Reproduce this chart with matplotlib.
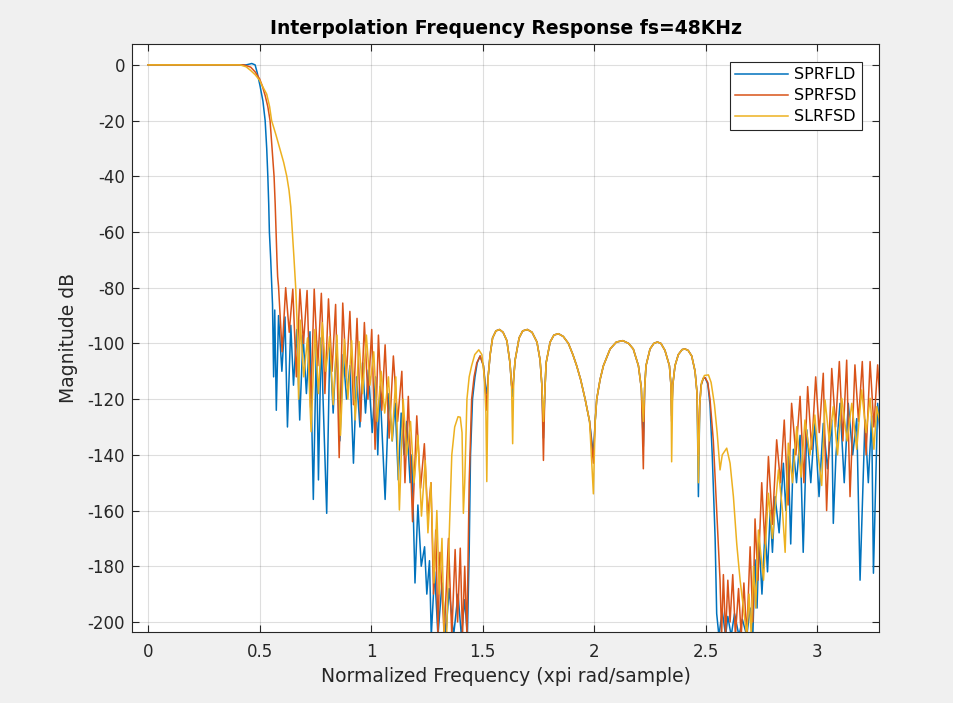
import numpy as np
import matplotlib
matplotlib.use('Agg')
import matplotlib.pyplot as plt

# values: normalized frequency (xpi) and magnitude (dB)

# passband, transition band and lower stopband, one list per filter
sprfld_head_f = [0.000, 0.440, 0.465, 0.480, 0.490, 0.502, 0.515, 0.525, 0.532, 0.537, 0.541, 0.544,
                 0.550, 0.555, 0.558, 0.563, 0.568, 0.575, 0.585, 0.600, 0.614, 0.625, 0.640, 0.652,
                 0.667, 0.680, 0.695, 0.710, 0.726, 0.741, 0.755, 0.764, 0.776, 0.801, 0.815, 0.830,
                 0.846, 0.860, 0.875, 0.890, 0.905, 0.921, 0.935, 0.950, 0.962, 0.975, 0.988, 1.005,
                 1.020, 1.030, 1.040, 1.063, 1.080, 1.095, 1.108, 1.122, 1.135, 1.148, 1.160, 1.175,
                 1.183, 1.197, 1.210, 1.225, 1.240, 1.250, 1.262, 1.270, 1.285, 1.300, 1.318, 1.335,
                 1.350, 1.370, 1.390, 1.405, 1.420, 1.432, 1.440, 1.446, 1.455, 1.466, 1.476, 1.489,
                 1.504, 1.514]
sprfld_head_db = [0, 0, 0.5, 0, -3, -7.5, -13, -20, -30, -40, -50, -60,
                  -70, -80, -86, -112, -88, -124, -90, -110, -90.5, -130, -93.5, -115,
                  -95, -127.5, -97, -118, -95.8, -156, -99, -149, -98, -161, -100, -125,
                  -98.7, -135, -104, -120, -108, -143, -112, -130, -107, -125, -109.5, -132,
                  -112, -140, -115.5, -156, -118, -135, -121.5, -149, -125, -140, -128, -150,
                  -140, -186, -158, -180, -173, -190, -178, -205, -182, -205, -186, -205,
                  -188, -205, -190, -205, -192, -205, -175, -140, -120, -112, -107, -104.5,
                  -108, -116]

sprfsd_head_f = [0.000, 0.430, 0.460, 0.480, 0.500, 0.512, 0.525, 0.537, 0.547, 0.556, 0.565, 0.570,
                 0.574, 0.578, 0.581, 0.585, 0.601, 0.617, 0.633, 0.649, 0.665, 0.681, 0.697, 0.713,
                 0.729, 0.745, 0.761, 0.777, 0.793, 0.809, 0.825, 0.841, 0.857, 0.873, 0.889, 0.905,
                 0.921, 0.937, 0.953, 0.970, 0.986, 1.003, 1.018, 1.033, 1.048, 1.063, 1.081, 1.100,
                 1.119, 1.138, 1.152, 1.167, 1.186, 1.205, 1.222, 1.239, 1.254, 1.269, 1.280, 1.290,
                 1.300, 1.309, 1.328, 1.347, 1.362, 1.377, 1.388, 1.400, 1.410, 1.420, 1.430, 1.440,
                 1.451, 1.462, 1.474, 1.489, 1.504, 1.514]
sprfsd_head_db = [0, 0, -0.8, -2.5, -5, -7.5, -11, -15, -20, -30, -40, -50,
                  -60, -70, -76, -79.5, -103, -80, -96, -80.5, -112, -80.5, -100, -81,
                  -123, -80.5, -108, -82, -118, -84, -110, -86, -141, -85.5, -112, -88.5,
                  -122, -91, -128, -92.5, -120, -95, -138, -97, -124, -100.5, -134, -104.5,
                  -128, -110, -150, -119, -164, -126, -152, -136, -162, -150, -190, -167,
                  -205, -175, -205, -170, -205, -174, -200, -173.5, -205, -180, -205, -150,
                  -120, -112, -107, -104.5, -108, -118]

slrfsd_head_f = [0.000, 0.413, 0.440, 0.460, 0.480, 0.500, 0.510, 0.532, 0.545, 0.554, 0.573, 0.592,
                 0.608, 0.622, 0.632, 0.640, 0.647, 0.654, 0.662, 0.668, 0.675, 0.682, 0.698, 0.715,
                 0.731, 0.748, 0.764, 0.781, 0.797, 0.814, 0.830, 0.847, 0.863, 0.880, 0.896, 0.913,
                 0.929, 0.946, 0.962, 0.979, 0.995, 1.012, 1.028, 1.045, 1.061, 1.078, 1.094, 1.111,
                 1.127, 1.144, 1.160, 1.177, 1.193, 1.210, 1.226, 1.243, 1.255, 1.268, 1.282, 1.295,
                 1.306, 1.318, 1.328, 1.339, 1.350, 1.362, 1.375, 1.390, 1.400, 1.408, 1.414, 1.420,
                 1.430, 1.440, 1.451, 1.465, 1.483, 1.497, 1.508, 1.515]
slrfsd_head_db = [0, 0, -0.7, -2, -3.5, -5.5, -7.2, -10.5, -15, -20, -25, -30.5,
                  -35, -40, -45, -51, -60, -69, -80, -92, -120, -91.6, -112, -98,
                  -131.7, -95, -118, -92.5, -110, -97.5, -122, -97, -133, -98.5, -120, -99,
                  -127.5, -99.3, -118, -97, -115, -103, -128, -110, -125, -112, -135, -112,
                  -159.8, -120, -140, -128, -150, -133, -162, -142, -168, -150, -186, -160,
                  -190, -170, -205, -205, -170, -140, -130, -126.3, -126.5, -132, -161, -150,
                  -120, -112, -108, -104, -102.3, -104, -112, -125]

# middle lobes shared by all three responses (only the null depths differ)
mid_f = [1.525, 1.534, 1.545, 1.560, 1.576, 1.592, 1.609, 1.623, 1.630,
         1.640, 1.646, 1.664, 1.680, 1.701, 1.722, 1.744, 1.758, 1.766,
         1.779, 1.785, 1.803, 1.820, 1.840, 1.862, 1.885, 1.905, 1.922, 1.940, 1.960, 1.980,
         2.005, 2.012, 2.027, 2.042, 2.072, 2.100, 2.129, 2.155, 2.176, 2.199, 2.212,
         2.227, 2.233, 2.251, 2.268, 2.284, 2.300, 2.318, 2.338, 2.345,
         2.353, 2.363, 2.378, 2.395, 2.408, 2.422, 2.438, 2.453, 2.462]
mid_db = [-112, -104, -98, -95.5, -95, -96, -99, -107, -115,
          -112, -106, -98, -95.5, -95, -96, -99.5, -106, -115,
          -118, -107, -99.5, -97, -96.5, -97.5, -100, -104, -108, -113, -120, -128,
          -128, -120, -113, -108, -102, -99.5, -99, -100, -102, -108, -116,
          -116, -108, -102, -100, -99.5, -100, -102.5, -108, -115,
          -115, -108, -104, -102.2, -102, -102.5, -104.5, -110, -118]
mid_null_f = [1.519, 1.635, 1.773, 1.997, 2.221, 2.348, 2.468]
sprfld_null_db = [-118, -119, -134, -140, -137, -126, -155]
sprfsd_null_db = [-124, -116, -142, -143, -145, -128, -140]
slrfsd_null_db = [-149.6, -136, -128, -154, -128, -142.5, -150]

# last lobe, second stopband and the rise towards pi
sprfld_tail_f = [2.474, 2.480, 2.490, 2.498, 2.510, 2.520, 2.530, 2.543, 2.550, 2.560, 2.575, 2.590,
                 2.600, 2.615, 2.630, 2.650, 2.665, 2.685, 2.700, 2.712, 2.722, 2.731, 2.740, 2.753,
                 2.767, 2.778, 2.790, 2.800, 2.812, 2.830, 2.849, 2.860, 2.871, 2.882, 2.894, 2.908,
                 2.924, 2.938, 2.954, 2.972, 2.990, 3.009, 3.028, 3.047, 3.066, 3.073, 3.085, 3.103,
                 3.122, 3.140, 3.160, 3.178, 3.193, 3.215, 3.230, 3.245, 3.253, 3.272, 3.285]
sprfld_tail_db = [-122, -115, -112.5, -112.3, -114.5, -122, -140, -170, -197, -205, -196, -205,
                  -198, -205, -197, -205, -199, -205, -195, -205, -177.7, -195, -170, -190,
                  -167, -182, -160, -175, -155, -168, -143, -160, -140, -172, -138, -150,
                  -133, -175, -131, -150, -128, -155, -128.7, -145, -127.5, -164.6, -140, -121.5,
                  -150, -121.5, -140, -127, -185, -127.5, -150, -126, -182.5, -121.5, -135]

sprfsd_tail_f = [2.474, 2.480, 2.490, 2.498, 2.510, 2.520, 2.535, 2.550, 2.565, 2.572, 2.580, 2.590,
                 2.600, 2.610, 2.622, 2.634, 2.648, 2.660, 2.672, 2.685, 2.700, 2.712, 2.722, 2.735,
                 2.752, 2.766, 2.782, 2.800, 2.819, 2.836, 2.853, 2.870, 2.886, 2.905, 2.924, 2.941,
                 2.958, 2.976, 2.994, 3.010, 3.028, 3.043, 3.066, 3.083, 3.100, 3.116, 3.133, 3.148,
                 3.170, 3.186, 3.203, 3.220, 3.238, 3.255, 3.272, 3.285]
sprfsd_tail_db = [-122, -115, -112.5, -112.3, -114, -120, -135, -160, -185, -205, -183, -205,
                  -185, -200, -183, -205, -188, -205, -186, -205, -173, -200, -163, -185,
                  -150, -172, -140.6, -165, -134.6, -150, -127.5, -158, -121.5, -140, -119, -150,
                  -115.5, -138, -112, -132, -110.7, -160, -109, -130, -106.5, -135, -106, -155,
                  -107.7, -128, -106.5, -140, -106.5, -130, -107.7, -125]

slrfsd_tail_f = [2.474, 2.482, 2.495, 2.513, 2.525, 2.540, 2.552, 2.565, 2.575, 2.595, 2.610, 2.625,
                 2.640, 2.655, 2.670, 2.685, 2.695, 2.705, 2.715, 2.725, 2.737, 2.760, 2.782, 2.800,
                 2.827, 2.845, 2.857, 2.871, 2.890, 2.909, 2.928, 2.946, 2.968, 2.990, 3.005, 3.021,
                 3.036, 3.055, 3.073, 3.092, 3.111, 3.135, 3.156, 3.178, 3.200, 3.220, 3.238, 3.255,
                 3.268, 3.285]
slrfsd_tail_db = [-122, -114, -111.5, -111.3, -114, -122, -132, -145.4, -140, -137.6, -143, -155,
                  -172, -185, -195, -205, -190, -205, -180, -195, -167, -185, -153.8, -170,
                  -145.4, -160, -175, -135.8, -150, -129.9, -148, -127.5, -140, -125.7, -140, -151,
                  -120.3, -135, -122.7, -140, -119.7, -135, -121.5, -138, -116.7, -132, -119.7, -138,
                  -122.7, -130]

labels = ['SPRFLD', 'SPRFSD', 'SLRFSD']
colors = ['#0072BD', '#D95319', '#EDB120']


def build(head_f, head_db, null_db, tail_f, tail_db):
    f = np.concatenate([head_f, mid_f, mid_null_f, tail_f])
    db = np.concatenate([head_db, mid_db, null_db, tail_db])
    order = np.argsort(f, kind='stable')
    return f[order], db[order]


curves = [
    build(sprfld_head_f, sprfld_head_db, sprfld_null_db, sprfld_tail_f, sprfld_tail_db),
    build(sprfsd_head_f, sprfsd_head_db, sprfsd_null_db, sprfsd_tail_f, sprfsd_tail_db),
    build(slrfsd_head_f, slrfsd_head_db, slrfsd_null_db, slrfsd_tail_f, slrfsd_tail_db),
]

plt.rcParams['font.family'] = ['DejaVu Sans']
plt.rcParams['axes.unicode_minus'] = False

fig = plt.figure(figsize=(9.54, 7.03), dpi=100, facecolor='#f0f0f0')
ax = fig.add_axes([0.1384, 0.1010, 0.7830, 0.8364])

for (f, db), lab, c in zip(curves, labels, colors):
    ax.plot(f, db, color=c, lw=1.1, label=lab)

ax.set_xlim(-0.072, 3.278)
ax.set_ylim(-203.6, 7.5)
ax.set_xticks([0, 0.5, 1, 1.5, 2, 2.5, 3])
ax.set_xticklabels(['0', '0.5', '1', '1.5', '2', '2.5', '3'])
ax.set_yticks(np.arange(-200, 1, 20))
ax.grid(True, color='#262626', alpha=0.15, lw=0.8)
ax.tick_params(axis='both', direction='in', top=True, right=True, length=5, width=0.8,
               colors='#262626', labelsize=12)
ax.tick_params(axis='x', pad=8)
ax.tick_params(axis='y', pad=5)
for s in ax.spines.values():
    s.set_color('#262626')
    s.set_linewidth(0.8)

ax.set_title('Interpolation Frequency Response fs=48KHz', fontsize=13.5,
             fontweight='bold', color='black', pad=7)
ax.set_xlabel('Normalized Frequency (xpi rad/sample)', fontsize=13.5, color='#262626', labelpad=4)
ax.set_ylabel('Magnitude dB', fontsize=13.5, color='#262626', labelpad=7)

leg = ax.legend(loc='upper right', bbox_to_anchor=(0.977, 0.969), borderaxespad=0,
                fancybox=False, framealpha=1, edgecolor='#262626', fontsize=11.5,
                handlelength=3.3, handletextpad=0.4, labelspacing=0.38, borderpad=0.32)
leg.get_frame().set_linewidth(0.8)

fig.savefig('out.png', dpi=100, facecolor=fig.get_facecolor())
